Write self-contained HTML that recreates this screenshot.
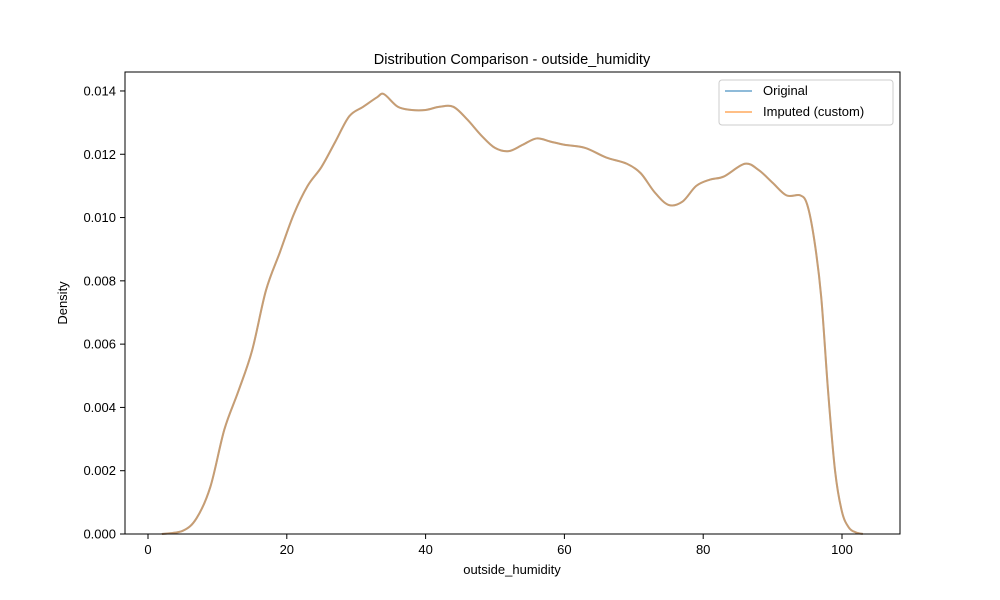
<!DOCTYPE html>
<html><head><meta charset="utf-8"><style>
body{margin:0;background:#fff;}
svg{display:block;font-family:"Liberation Sans","DejaVu Sans",sans-serif;}
</style></head><body>
<svg id="chart" width="1000" height="600">
<rect x="0" y="0" width="1000" height="600" fill="#fff"/>
<text x="512" y="64" text-anchor="middle" font-size="14.5">Distribution Comparison - outside_humidity</text>
<g id="xticks"></g>
<g id="yticks"></g>
<g id="series"></g>
<rect x="125" y="72" width="775" height="462" fill="none" stroke="#000" stroke-width="1"/>
<text x="512" y="574" text-anchor="middle" font-size="13">outside_humidity</text>
<text transform="translate(67,303) rotate(-90)" text-anchor="middle" font-size="13">Density</text>
<g>
<rect x="719" y="80" width="174" height="45" rx="3" fill="#fff" fill-opacity="0.8" stroke="#ccc"/>
<line x1="725" y1="91" x2="752" y2="91" stroke="#1f77b4" stroke-opacity="0.5" stroke-width="2"/>
<text x="763" y="95" font-size="13">Original</text>
<line x1="725" y1="112" x2="752" y2="112" stroke="#ff7f0e" stroke-opacity="0.5" stroke-width="2"/>
<text x="763" y="116" font-size="13">Imputed (custom)</text>
</g>
</svg>
<script>
const xs=[2,5,7,9,11,13,15,17,19,21,23,25,27,29,31,33,34,36,38,40,42,44,46,48,50,52,54,56,58,60,63,66,69,71,73,75,77,79,81,83,86,88,90,92,94,95,96,97,98,99,100,101,102,103];
const original=[0,0.0001,0.0005,0.0015,0.0033,0.0045,0.0058,0.0077,0.0089,0.0101,0.011,0.0116,0.0124,0.0132,0.0135,0.0138,0.0139,0.0135,0.0134,0.0134,0.0135,0.0135,0.0131,0.0126,0.0122,0.0121,0.0123,0.0125,0.0124,0.0123,0.0122,0.0119,0.0117,0.0114,0.0108,0.0104,0.0105,0.011,0.0112,0.0113,0.0117,0.0115,0.0111,0.0107,0.0107,0.0104,0.0093,0.0075,0.0045,0.002,0.0007,0.0002,0.00005,0];
const imputed=original.slice();
const xTickVals=[0,20,40,60,80,100];
const yTickVals=[0,0.002,0.004,0.006,0.008,0.01,0.012,0.014];
const yTickLabels=["0.000","0.002","0.004","0.006","0.008","0.010","0.012","0.014"];
const X=v=>148+v*6.94, Y=v=>534-v/0.002*63.29;
const ns="http://www.w3.org/2000/svg";
function mk(t,a,p){const e=document.createElementNS(ns,t);for(const k in a)e.setAttribute(k,a[k]);p.appendChild(e);return e;}
const xg=document.getElementById('xticks'),yg=document.getElementById('yticks'),sg=document.getElementById('series');
xTickVals.forEach(v=>{const l=mk('line',{x1:X(v),x2:X(v),y1:534,y2:539,stroke:'#000'},xg);


const t=mk('text',{x:X(v),y:554,'text-anchor':'middle','font-size':13},xg);t.textContent=v;

});
yTickVals.forEach((v,i)=>{const l=mk('line',{x1:120,x2:125,y1:Y(v),y2:Y(v),stroke:'#000'},yg);


const t=mk('text',{x:116,y:Y(v)+4.5,'text-anchor':'end','font-size':13},yg);t.textContent=yTickLabels[i];

});
function path(arr){let d='';const p=xs.map((x,i)=>[X(x),Y(arr[i])]);
d='M'+p[0][0]+','+p[0][1];
for(let i=0;i<p.length-1;i++){const p0=p[i-1]||p[i],p1=p[i],p2=p[i+1],p3=p[i+2]||p2;
d+=' C'+(p1[0]+(p2[0]-p0[0])/6)+','+(p1[1]+(p2[1]-p0[1])/6)+' '+(p2[0]-(p3[0]-p1[0])/6)+','+(p2[1]-(p3[1]-p1[1])/6)+' '+p2[0]+','+p2[1];}
return d;}
const a=mk('path',{d:path(original),fill:'none',stroke:'#1f77b4','stroke-opacity':0.5,'stroke-width':2},sg);


const b=mk('path',{d:path(imputed),fill:'none',stroke:'#ff7f0e','stroke-opacity':0.5,'stroke-width':2},sg);


</script>
</body></html>
